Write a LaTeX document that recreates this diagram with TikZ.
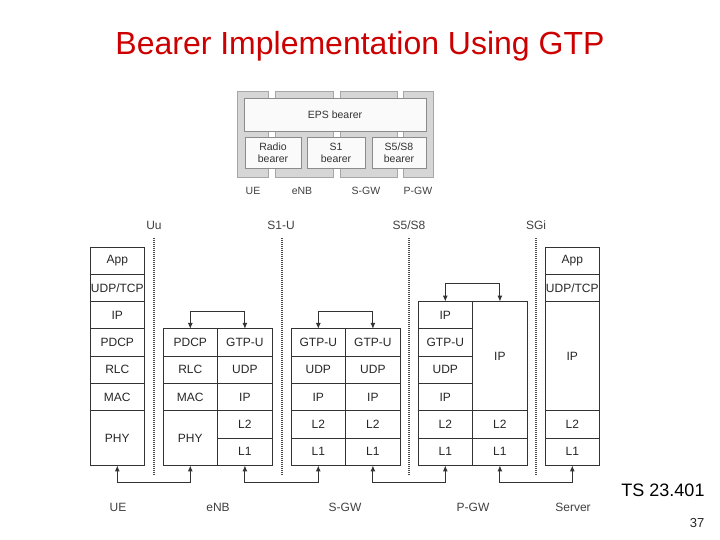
\documentclass[tikz,border=0pt]{standalone}
\usepackage{fontspec}
\setmainfont{Liberation Sans}
\usetikzlibrary{arrows.meta,positioning}
\definecolor{titlered}{RGB}{204,0,0}
\definecolor{insetgray}{RGB}{214,214,214}

\begin{document}
\begin{tikzpicture}[x=1pt,y=-1pt,
    cell/.style={draw=black!80, line width=1pt, minimum width=54.6pt, minimum height=27.3pt, inner sep=0pt, outer sep=0pt, text=black!85, font=\fontsize{12}{14}\selectfont},
    dcell/.style={cell, minimum height=54.6pt},
    qcell/.style={cell, minimum height=109.2pt},
    arr/.style={{Latex[length=6pt,width=5pt]}-{Latex[length=6pt,width=5pt]}, line width=1.1pt, black!80},
    sep/.style={dash pattern=on 1pt off 1pt, line width=1.2pt, black!70},
    lbl/.style={text=black!75, font=\fontsize{12}{14}\selectfont},
    blk/.style={fill=insetgray, draw=black!35, line width=0.6pt},
    bbox/.style={fill=black!2, draw=black!45, line width=0.6pt, align=center, inner sep=0pt, text=black!80, font=\fontsize{10.5}{12}\selectfont},
    small/.style={text=black!75, font=\fontsize{10.5}{12}\selectfont}
  ]
    \useasboundingbox (0,0) rectangle (720,540);

    % title
    \node[text=titlered, font=\fontsize{32}{38}\selectfont] (title) at (360,46) {Bearer Implementation Using GTP};

    % small bearer figure
    \draw[blk] (237,91) rectangle (268,177);
    \draw[blk] (275,91) rectangle (333,177);
    \draw[blk] (340,91) rectangle (397,177);
    \draw[blk] (403,91) rectangle (433,177);
    \node[bbox, minimum width=182pt, minimum height=33pt] (eps) at (335,114.5) {EPS bearer};
    \node[bbox, minimum width=56pt, minimum height=31pt] (radio) at (273,152.5) {Radio\\bearer};
    \node[bbox, minimum width=58pt, minimum height=31pt] (sone) at (336,152.5) {S1\\bearer};
    \node[bbox, minimum width=54pt, minimum height=31pt] (sfive) at (399,152.5) {S5/S8\\bearer};
    \node[small] (iue) at (253,191) {UE};
    \node[small] (ienb) at (302,191) {eNB};
    \node[small] (isgw) at (366,191) {S-GW};
    \node[small] (ipgw) at (418,191) {P-GW};

    % interfaces
    \node[lbl] (uu) at (154,225) {Uu};
    \node[lbl] (sou) at (281,225) {S1-U};
    \node[lbl] (sfs) at (409,225) {S5/S8};
    \node[lbl] (sgi) at (536,225) {SGi};
    \coordinate (uuend) at (154,474);
    \coordinate (souend) at (282,474);
    \coordinate (sfsend) at (409,474);
    \coordinate (sgiend) at (536,474);
    \draw[sep] ([yshift=-5pt]uu.south) -- (uuend);
    \draw[sep] ([yshift=-5pt]sou.south -| souend) -- (souend);
    \draw[sep] ([yshift=-5pt]sfs.south) -- (sfsend);
    \draw[sep] ([yshift=-5pt]sgi.south) -- (sgiend);

    % UE
    \node[cell, anchor=north west] (ueapp) at (90,247) {App};
    \node[cell, below=0pt of ueapp] (ueudp) {UDP/TCP};
    \node[cell, below=0pt of ueudp] (ueip) {IP};
    \node[cell, below=0pt of ueip] (uepdcp) {PDCP};
    \node[cell, below=0pt of uepdcp] (uerlc) {RLC};
    \node[cell, below=0pt of uerlc] (uemac) {MAC};
    \node[dcell, below=0pt of uemac] (uephy) {PHY};

    % eNB
    \node[cell, anchor=north west] (enbpdcp) at (163,328.9) {PDCP};
    \node[cell, below=0pt of enbpdcp] (enbrlc) {RLC};
    \node[cell, below=0pt of enbrlc] (enbmac) {MAC};
    \node[dcell, below=0pt of enbmac] (enbphy) {PHY};
    \node[cell, right=0pt of enbpdcp] (enbgtp) {GTP-U};
    \node[cell, below=0pt of enbgtp] (enbudp) {UDP};
    \node[cell, below=0pt of enbudp] (enbip) {IP};
    \node[cell, below=0pt of enbip] (enbltwo) {L2};
    \node[cell, below=0pt of enbltwo] (enblone) {L1};

    % S-GW
    \node[cell, anchor=north west] (sgwgtpa) at (291,328.9) {GTP-U};
    \node[cell, below=0pt of sgwgtpa] (sgwudpa) {UDP};
    \node[cell, below=0pt of sgwudpa] (sgwipa) {IP};
    \node[cell, below=0pt of sgwipa] (sgwltwoa) {L2};
    \node[cell, below=0pt of sgwltwoa] (sgwlonea) {L1};
    \node[cell, right=0pt of sgwgtpa] (sgwgtpb) {GTP-U};
    \node[cell, below=0pt of sgwgtpb] (sgwudpb) {UDP};
    \node[cell, below=0pt of sgwudpb] (sgwipb) {IP};
    \node[cell, below=0pt of sgwipb] (sgwltwob) {L2};
    \node[cell, below=0pt of sgwltwob] (sgwloneb) {L1};

    % P-GW
    \node[cell, anchor=north west] (pgwipa) at (418,301.6) {IP};
    \node[cell, below=0pt of pgwipa] (pgwgtp) {GTP-U};
    \node[cell, below=0pt of pgwgtp] (pgwudp) {UDP};
    \node[cell, below=0pt of pgwudp] (pgwipb) {IP};
    \node[cell, below=0pt of pgwipb] (pgwltwoa) {L2};
    \node[cell, below=0pt of pgwltwoa] (pgwlonea) {L1};
    \node[qcell, anchor=north west] (pgwipc) at (pgwipa.north east) {IP};
    \node[cell, below=0pt of pgwipc] (pgwltwob) {L2};
    \node[cell, below=0pt of pgwltwob] (pgwloneb) {L1};

    % Server
    \node[cell, anchor=north west] (srvapp) at (545,247) {App};
    \node[cell, below=0pt of srvapp] (srvudp) {UDP/TCP};
    \node[qcell, below=0pt of srvudp] (srvip) {IP};
    \node[cell, below=0pt of srvip] (srvltwo) {L2};
    \node[cell, below=0pt of srvltwo] (srvlone) {L1};

    % relays
    \draw[arr] (enbpdcp.north) -- ++(0,-17) -| (enbgtp.north);
    \draw[arr] (sgwgtpa.north) -- ++(0,-17) -| (sgwgtpb.north);
    \draw[arr] (pgwipa.north) -- ++(0,-18) -| (pgwipc.north);

    % links
    \draw[arr] (uephy.south) -- ++(0,17) -| (enbphy.south);
    \draw[arr] (enblone.south) -- ++(0,17) -| (sgwlonea.south);
    \draw[arr] (sgwloneb.south) -- ++(0,17) -| (pgwlonea.south);
    \draw[arr] (pgwloneb.south) -- ++(0,17) -| (srvlone.south);

    % node names
    \node[lbl] (lue) at (118,507) {UE};
    \node[lbl] (lenb) at (218,507) {eNB};
    \node[lbl] (lsgw) at (345,507) {S-GW};
    \node[lbl] (lpgw) at (473,507) {P-GW};
    \node[lbl] (lsrv) at (573,507) {Server};

    \node[font=\fontsize{18}{22}\selectfont] (ts) at (663,490) {TS 23.401};
    \node[font=\fontsize{13}{15}\selectfont, text=black!85] (page) at (697,523) {37};
  \end{tikzpicture}
\end{document}
